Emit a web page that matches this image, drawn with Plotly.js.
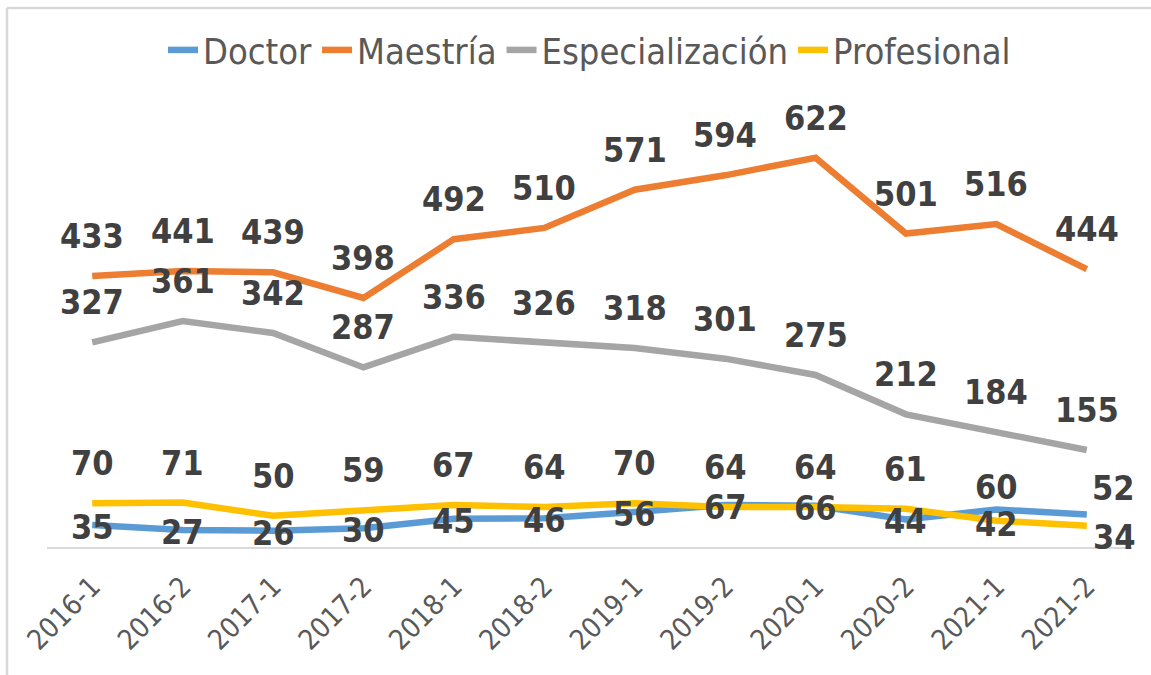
<!DOCTYPE html>
<html>
<head>
<meta charset="utf-8">
<script src="https://cdn.plot.ly/plotly-3.0.1.min.js"></script>
<style>
  html, body { margin: 0; padding: 0; background: #ffffff; }
  #chart { width: 1151px; height: 675px; }
</style>
</head>
<body>
<div id="chart"></div>
<script>
// ---- data ----
const categories = ['2016-1','2016-2','2017-1','2017-2','2018-1','2018-2','2019-1','2019-2','2020-1','2020-2','2021-1','2021-2'];
const doctor          = [35, 27, 26, 30, 45, 46, 56, 67, 66, 44, 60, 52];
const maestria        = [433, 441, 439, 398, 492, 510, 571, 594, 622, 501, 516, 444];
const especializacion = [327, 361, 342, 287, 336, 326, 318, 301, 275, 212, 184, 155];
const profesional     = [70, 71, 50, 59, 67, 64, 70, 64, 64, 61, 42, 34];
const seriesNames = ['Doctor', 'Maestría', 'Especialización', 'Profesional'];

// ---- style ----
const colors = ['#5B9BD5', '#ED7D31', '#A5A5A5', '#FFC000'];
const labelFont = { family: '"DejaVu Sans Condensed", "DejaVu Sans", sans-serif', size: 34, color: '#404040', weight: 'bold' };
const legendFont = { family: '"DejaVu Sans Condensed", "DejaVu Sans", sans-serif', size: 36, color: '#595959' };
const tickFont = { family: '"DejaVu Sans Condensed", "DejaVu Sans", sans-serif', size: 28, color: '#595959' };

// label offsets (pixels) per series: default, plus per-point overrides
const defaultShift = [-2, 40, 40, 40];
const shiftOverrides = {
  0: { 10: { dy: 22, dx: 0 }, 11: { dy: 26, dx: 27 } },
  3: { 10: { dy: -3, dx: 0 }, 11: { dy: -11, dx: 28 } }
};

const allSeries = [doctor, maestria, especializacion, profesional];

const traces = allSeries.map((vals, i) => ({
  type: 'scatter',
  mode: 'lines',
  name: seriesNames[i],
  x: categories,
  y: vals,
  line: { color: colors[i], width: 6.5 },
  hoverinfo: 'x+y+name'
}));

const annotations = [];
allSeries.forEach((vals, s) => {
  vals.forEach((v, k) => {
    const ov = (shiftOverrides[s] && shiftOverrides[s][k]) || null;
    annotations.push({
      x: categories[k],
      y: v,
      xref: 'x', yref: 'y',
      text: String(v),
      showarrow: false,
      xanchor: 'center', yanchor: 'middle',
      yshift: ov ? ov.dy : defaultShift[s],
      xshift: ov ? ov.dx : 0,
      font: labelFont
    });
  });
});

// plot area geometry: left 47, right 1132, top 109, bottom 547
const plotL = 47, plotR = 1132, plotT = 109, plotB = 547;
const pw = plotR - plotL, ph = plotB - plotT;
const px2paperX = p => (p - plotL) / pw;
const px2paperY = p => (plotB - p) / ph;

const borderColor = '#D9D9D9';
const shapes = [
  { type: 'line', xref: 'paper', yref: 'paper', x0: px2paperX(7), x1: px2paperX(1151), y0: px2paperY(8), y1: px2paperY(8), line: { color: borderColor, width: 2.5 } },
  { type: 'line', xref: 'paper', yref: 'paper', x0: px2paperX(7), x1: px2paperX(7), y0: px2paperY(8), y1: px2paperY(675), line: { color: borderColor, width: 2.5 } }
];

const layout = {
  width: 1151,
  height: 675,
  margin: { l: plotL, r: 1151 - plotR, t: plotT, b: 675 - plotB, pad: 0 },
  paper_bgcolor: '#ffffff',
  plot_bgcolor: '#ffffff',
  showlegend: true,
  legend: {
    orientation: 'h',
    x: 0.5, xanchor: 'center',
    y: px2paperY(50), yanchor: 'middle',
    font: legendFont,
    itemwidth: 30,
    traceorder: 'normal',
    bgcolor: 'rgba(0,0,0,0)'
  },
  xaxis: {
    type: 'category',
    range: [-0.5, categories.length - 0.5],
    showgrid: false,
    zeroline: false,
    showline: true,
    linecolor: '#D9D9D9',
    linewidth: 2,
    ticks: '',
    tickangle: -45,
    tickfont: tickFont,
    ticklabelstandoff: 10,
    automargin: false,
    fixedrange: true
  },
  yaxis: {
    range: [0, 700],
    showgrid: false,
    zeroline: false,
    showline: false,
    showticklabels: false,
    ticks: '',
    automargin: false,
    fixedrange: true
  },
  annotations: annotations,
  shapes: shapes
};

Plotly.newPlot('chart', traces, layout, { displayModeBar: false, staticPlot: true });
</script>
</body>
</html>
